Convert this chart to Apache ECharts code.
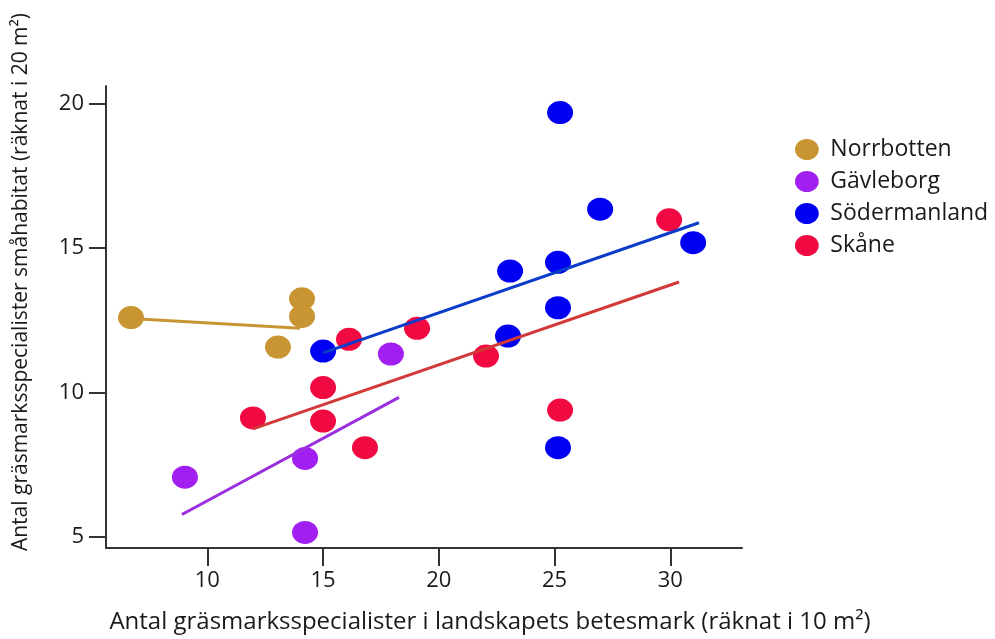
<!DOCTYPE html>
<html>
<head>
<meta charset="utf-8">
<script src="https://cdn.jsdelivr.net/npm/echarts@6/dist/echarts.min.js"></script>
<style>
  html, body { margin: 0; padding: 0; background: #ffffff; }
  #chart { width: 995px; height: 639px; }
</style>
</head>
<body>
<div id="chart"></div>
<script>
// Regions shown in the legend
const regions = ['Norrbotten', 'Gävleborg', 'Södermanland', 'Skåne'];

// Observations per region: [landscape pasture count, small-habitat count]
const norrbotten = [[6.7, 12.59], [14.09, 13.24], [14.09, 12.63], [13.05, 11.57]];
const gavleborg = [[9.03, 7.07], [14.22, 7.72], [17.93, 11.33], [14.22, 5.16]];
const sodermanland = [
  [15.0, 11.43], [25.24, 19.68], [26.97, 16.34], [30.99, 15.18], [23.08, 14.2],
  [25.15, 14.5], [25.15, 12.93], [22.99, 11.95], [25.15, 8.09]
];
const skane = [
  [11.97, 9.12], [16.12, 11.84], [19.06, 12.22], [22.04, 11.26], [29.95, 15.97],
  [15.0, 10.17], [15.0, 9.01], [16.81, 8.09], [25.24, 9.39]
];

// Fitted trend lines (start and end point per region)
const trendNorrbotten = [[6.7, 12.56], [14.0, 12.22]];
const trendGavleborg = [[8.9, 5.78], [18.28, 9.83]];
const trendSodermanland = [[15.0, 11.37], [31.24, 15.87]];
const trendSkane = [[11.97, 8.74], [30.38, 13.82]];

// Axis tick labels
const xTicks = [10, 15, 20, 25, 30];
const yTicks = [5, 10, 15, 20];

const pointColors = ['#C99532', '#A21FF2', '#0000F2', '#F10A42'];
const lineColors = ['#C99532', '#9B2FDD', '#0B3CC9', '#D23A3A'];
const ellipse = 'path://M0 12a13 11.5 0 1 0 26 0a13 11.5 0 1 0 -26 0z';
const FONT = 'Open Sans';
const INK = '#1a1a1a';

function scatter(name, data, i) {
  return {
    name: name, type: 'scatter', data: data,
    symbol: ellipse, symbolSize: [26, 23],
    itemStyle: { color: pointColors[i], opacity: 1 },
    z: 2
  };
}
function trend(name, data, i) {
  return {
    name: name + ' trend', type: 'line', data: data,
    symbol: 'none', silent: true,
    lineStyle: { color: lineColors[i], width: 3 },
    z: 3
  };
}

const chart = echarts.init(document.getElementById('chart'), null, { renderer: 'canvas' });
chart.setOption({
  animation: false,
  backgroundColor: '#ffffff',
  grid: { left: 106, top: 86, right: 253, bottom: 84, containLabel: false },
  legend: {
    data: regions.map((r, i) => ({ name: r, icon: ellipse, itemStyle: { color: pointColors[i] } })),
    orient: 'vertical', left: 790, top: 133,
    itemWidth: 27, itemHeight: 21, itemGap: 9,
    textStyle: { fontFamily: FONT, fontSize: 23, color: INK, padding: [0, 0, 0, 5] }
  },
  xAxis: {
    type: 'value', min: 5.62, max: 33.1,
    splitLine: { show: false },
    axisLine: { lineStyle: { color: '#333', width: 2 } },
    axisTick: { customValues: xTicks, length: 18, lineStyle: { color: '#333', width: 2 } },
    axisLabel: { customValues: xTicks, margin: 22, fontFamily: FONT, fontSize: 22, color: INK },
    name: 'Antal gräsmarksspecialister i landskapets betesmark (räknat i 10 m²)',
    nameLocation: 'middle', nameGap: 62,
    nameTextStyle: { fontFamily: FONT, fontSize: 24, color: INK, padding: [0, 0, 0, 132] }
  },
  yAxis: {
    type: 'value', min: 4.62, max: 20.6,
    splitLine: { show: false },
    axisLine: { lineStyle: { color: '#333', width: 2 } },
    axisTick: { customValues: yTicks, length: 17, lineStyle: { color: '#333', width: 2 } },
    axisLabel: { customValues: yTicks, margin: 22, fontFamily: FONT, fontSize: 22, color: INK },
    name: 'Antal gräsmarksspecialister småhabitat (räknat i 20 m²)',
    nameLocation: 'middle', nameGap: 74,
    nameTextStyle: { fontFamily: FONT, fontSize: 21, color: INK, padding: [0, 0, 0, 70] }
  },
  series: [
    scatter('Norrbotten', norrbotten, 0),
    scatter('Gävleborg', gavleborg, 1),
    scatter('Södermanland', sodermanland, 2),
    scatter('Skåne', skane, 3),
    trend('Norrbotten', trendNorrbotten, 0),
    trend('Gävleborg', trendGavleborg, 1),
    trend('Södermanland', trendSodermanland, 2),
    trend('Skåne', trendSkane, 3)
  ]
});
</script>
</body>
</html>
